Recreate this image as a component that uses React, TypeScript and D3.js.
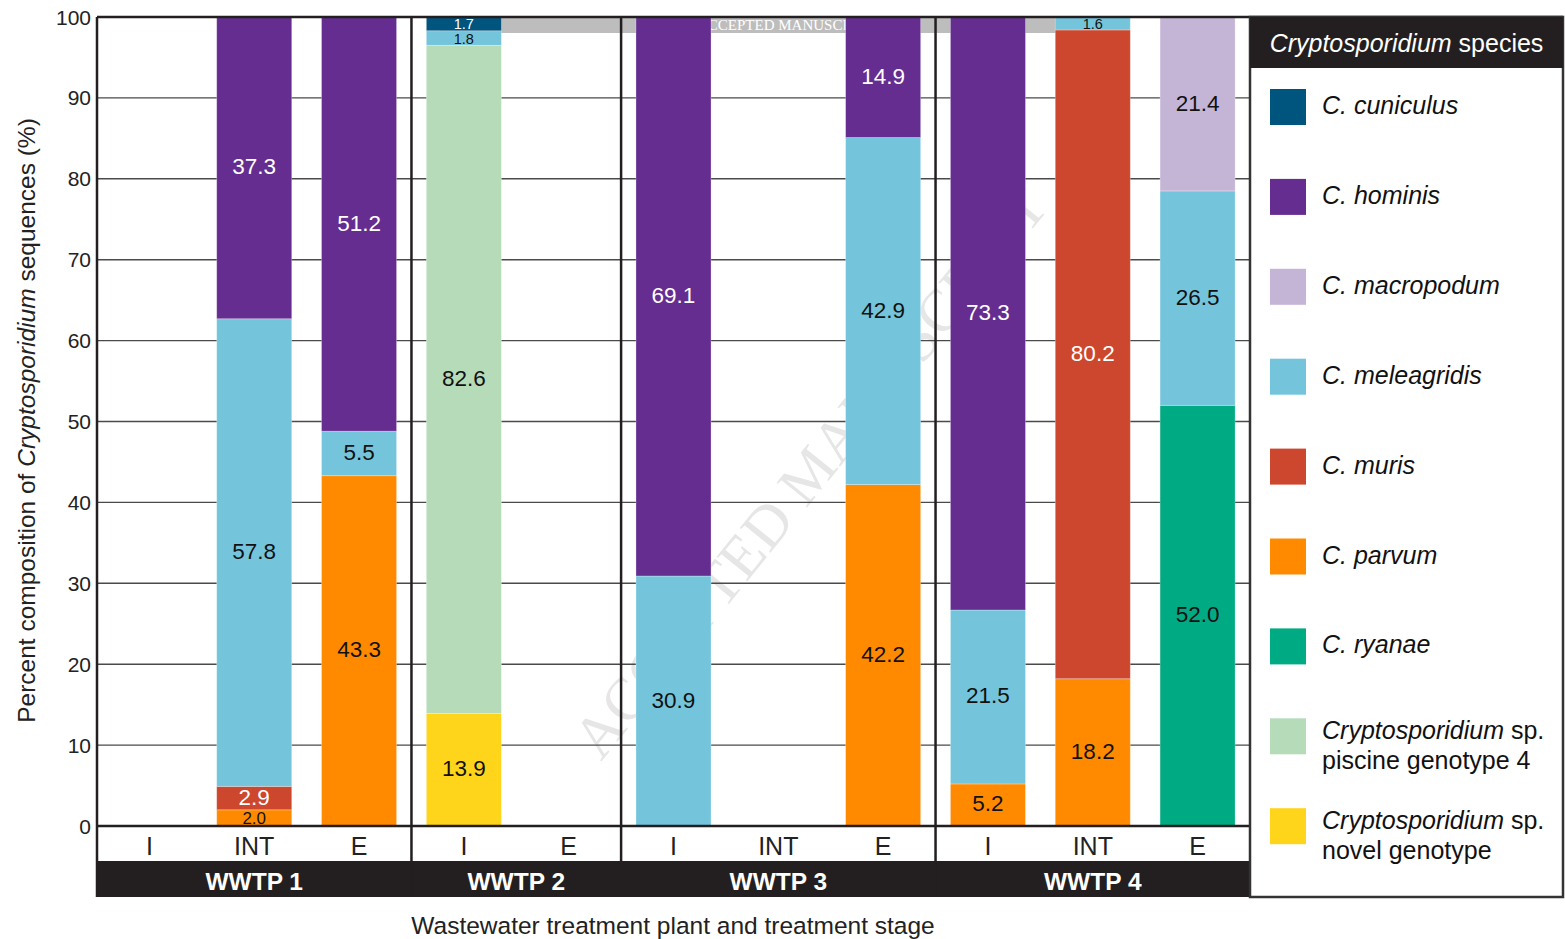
import React from "react";
import * as d3 from "d3";

// legend order (top to bottom); stacks go bottom-up in the reverse order
const species = [
  "cuniculus",
  "hominis",
  "macropodum",
  "meleagridis",
  "muris",
  "parvum",
  "ryanae",
  "piscine",
  "novel",
];

const speciesColors = [
  "#00557f",
  "#652d90",
  "#c4b5d7",
  "#74c5dc",
  "#cc472d",
  "#ff8a00",
  "#00ab84",
  "#b6dbb9",
  "#ffd51c",
];

// white value labels on the dark segments
const whiteLabel = ["cuniculus", "hominis", "muris"];

const plants = ["WWTP 1", "WWTP 2", "WWTP 3", "WWTP 4"];
const plantStages = [
  ["I", "INT", "E"],
  ["I", "E"],
  ["I", "INT", "E"],
  ["I", "INT", "E"],
];

// one row per bar: [plant, stage, species values...] in legend order
const samples: [string, string, number[]][] = [
  ["WWTP 1", "I", [0, 0, 0, 0, 0, 0, 0, 0, 0]],
  ["WWTP 1", "INT", [0, 37.3, 0, 57.8, 2.9, 2.0, 0, 0, 0]],
  ["WWTP 1", "E", [0, 51.2, 0, 5.5, 0, 43.3, 0, 0, 0]],
  ["WWTP 2", "I", [1.7, 0, 0, 1.8, 0, 0, 0, 82.6, 13.9]],
  ["WWTP 2", "E", [0, 0, 0, 0, 0, 0, 0, 0, 0]],
  ["WWTP 3", "I", [0, 69.1, 0, 30.9, 0, 0, 0, 0, 0]],
  ["WWTP 3", "INT", [0, 0, 0, 0, 0, 0, 0, 0, 0]],
  ["WWTP 3", "E", [0, 14.9, 0, 42.9, 0, 42.2, 0, 0, 0]],
  ["WWTP 4", "I", [0, 73.3, 0, 21.5, 0, 5.2, 0, 0, 0]],
  ["WWTP 4", "INT", [0, 0, 0, 1.6, 80.2, 18.2, 0, 0, 0]],
  ["WWTP 4", "E", [0, 0, 21.4, 26.5, 0, 0, 52.0, 0, 0]],
];

const yTicks = [0, 10, 20, 30, 40, 50, 60, 70, 80, 90, 100];

const W = 1565;
const H = 939;
const left = 97;
const right = 1250;
const top = 17;
const bottom = 826;
const stageRow = 862;
const plantRow = 897;
const ink = "#231f20";
const font = "'Liberation Sans', Arial, Helvetica, sans-serif";

const App: React.FC = () => {
  const keys = samples.map((s) => `${s[0]}|${s[1]}`);
  const x = d3
    .scaleBand<string>()
    .domain(keys)
    .range([left, right])
    .paddingInner(0.284)
    .paddingOuter(0.142);
  const y = d3.scaleLinear().domain([0, 100]).range([bottom, top]);

  const rows = samples.map((s) => {
    const r: Record<string, number | string> = { key: `${s[0]}|${s[1]}` };
    species.forEach((sp, i) => (r[sp] = s[2][i]));
    return r;
  });
  const stackKeys = species.slice().reverse();
  const series = d3
    .stack<Record<string, number | string>>()
    .keys(stackKeys)
    .value((d, k) => d[k] as number)(rows);
  const colorOf = d3.scaleOrdinal<string, string>().domain(species).range(speciesColors);

  const step = x.step();
  // group boundaries
  const groupEdges: number[] = [];
  let idx = 0;
  plants.forEach((p, i) => {
    const start = left + idx * step;
    idx += plantStages[i].length;
    const end = left + idx * step;
    groupEdges.push(start, end);
  });

  const legendX = right;
  const legendRight = 1563;
  const itemY = (i: number) => 105 + i * 89.9;

  const labelSize = (v: number) => (v < 1.9 ? 14.5 : v < 2.5 ? 17 : 22.5);

  return (
    <svg width={W} height={H} style={{ position: "absolute", left: 0, top: 0, fontFamily: font }}>
      <rect width={W} height={H} fill="white" />

      {/* manuscript watermark band */}
      <rect x={440} y={top} width={650} height={16} fill="#bdbdbd" />
      <text
        x={786}
        y={30}
        textAnchor="middle"
        fontFamily="'Liberation Serif', 'DejaVu Serif', serif"
        fontSize={15}
        fill="white"
      >
        ACCEPTED MANUSCRIPT
      </text>
      <text
        transform="translate(810,472) rotate(-51)"
        textAnchor="middle"
        dominantBaseline="central"
        fontFamily="'Liberation Serif', 'DejaVu Serif', serif"
        fontSize={60}
        textLength={714}
        lengthAdjust="spacingAndGlyphs"
        fill="#e6e6e6"
      >
        ACCEPTED MANUSCRIPT
      </text>

      {/* gridlines */}
      {yTicks
        .filter((t) => t > 0 && t < 100)
        .map((t) => (
          <line key={t} x1={left} x2={right} y1={y(t)} y2={y(t)} stroke="#4a4a4a" strokeWidth={1.4} />
        ))}

      {/* bars */}
      {series.map((s) => (
        <g key={s.key} fill={colorOf(s.key)}>
          {s.map((d) =>
            d[1] - d[0] > 0 ? (
              <rect
                key={d.data.key as string}
                x={x(d.data.key as string)}
                width={x.bandwidth()}
                y={y(d[1])}
                height={y(d[0]) - y(d[1])}
                stroke="#ffffff"
                strokeOpacity={0.35}
                strokeWidth={0.8}
              />
            ) : null
          )}
        </g>
      ))}

      {/* value labels */}
      {series.map((s) =>
        s.map((d) => {
          const v = d[1] - d[0];
          if (v <= 0) return null;
          return (
            <text
              key={`${s.key}-${d.data.key}`}
              x={(x(d.data.key as string) as number) + x.bandwidth() / 2}
              y={y((d[0] + d[1]) / 2) + (v < 2.5 ? 0.5 : -1)}
              textAnchor="middle"
              dominantBaseline="central"
              fontSize={labelSize(v)}
              fill={whiteLabel.includes(s.key) ? "white" : "#111"}
            >
              {v.toFixed(1)}
            </text>
          );
        })
      )}

      {/* y tick labels */}
      {yTicks.map((t) => (
        <text
          key={t}
          x={91}
          y={y(t)}
          textAnchor="end"
          dominantBaseline="central"
          fontSize={21}
          fill="#222"
        >
          {t}
        </text>
      ))}

      {/* stage labels */}
      {samples.map((s) => (
        <text
          key={`${s[0]}${s[1]}`}
          x={(x(`${s[0]}|${s[1]}`) as number) + x.bandwidth() / 2}
          y={846}
          textAnchor="middle"
          dominantBaseline="central"
          fontSize={25}
          fill="#222"
        >
          {s[1]}
        </text>
      ))}

      {/* plant band */}
      <rect x={left} y={stageRow} width={right - left} height={plantRow - stageRow} fill={ink} />
      {plants.map((p, i) => (
        <text
          key={p}
          x={(groupEdges[i * 2] + groupEdges[i * 2 + 1]) / 2}
          y={881}
          textAnchor="middle"
          dominantBaseline="central"
          fontSize={24.5}
          fontWeight="bold"
          fill="white"
        >
          {p}
        </text>
      ))}

      {/* frame */}
      <line x1={left} x2={right} y1={bottom} y2={bottom} stroke={ink} strokeWidth={2.5} />
      <line x1={left} x2={right} y1={stageRow} y2={stageRow} stroke={ink} strokeWidth={2} />
      <line x1={left} x2={legendRight} y1={top} y2={top} stroke={ink} strokeWidth={2.5} />
      <line x1={left} x2={left} y1={top} y2={plantRow} stroke={ink} strokeWidth={2.5} />
      {groupEdges
        .filter((e, i) => i % 2 === 1 && e < right - 1)
        .map((e) => (
          <line key={e} x1={e} x2={e} y1={top} y2={plantRow} stroke={ink} strokeWidth={2.5} />
        ))}

      {/* legend */}
      <rect
        x={legendX}
        y={top}
        width={legendRight - legendX}
        height={plantRow - top}
        fill="none"
        stroke="#333"
        strokeWidth={2.5}
      />
      <rect x={legendX} y={top} width={legendRight - legendX} height={51} fill={ink} />
      <text
        x={(legendX + legendRight) / 2}
        y={43}
        textAnchor="middle"
        dominantBaseline="central"
        fontSize={25}
        fill="white"
      >
        <tspan fontStyle="italic">Cryptosporidium</tspan> species
      </text>
      {species.map((sp, i) => {
        const cy = itemY(i);
        const twoLine = sp === "piscine" || sp === "novel";
        return (
          <g key={sp}>
            <rect x={1270} y={cy - 16} width={36} height={36} fill={colorOf(sp)} />
            {twoLine ? (
              <text x={1322} fontSize={25} fill="#111">
                <tspan x={1322} y={cy + 5}>
                  <tspan fontStyle="italic">Cryptosporidium</tspan> sp.
                </tspan>
                <tspan x={1322} y={cy + 35}>
                  {sp === "piscine" ? "piscine genotype 4" : "novel genotype"}
                </tspan>
              </text>
            ) : (
              <text x={1322} y={cy} dominantBaseline="central" fontSize={25} fontStyle="italic" fill="#111">
                {`C. ${sp}`}
              </text>
            )}
          </g>
        );
      })}

      {/* axis titles */}
      <text
        transform={`translate(35,${(top + bottom) / 2 - 1}) rotate(-90)`}
        textAnchor="middle"
        fontSize={24.5}
        fill="#222"
      >
        Percent composition of <tspan fontStyle="italic">Cryptosporidium</tspan> sequences (%)
      </text>
      <text x={673} y={925} textAnchor="middle" dominantBaseline="central" fontSize={24.5} fill="#222">
        Wastewater treatment plant and treatment stage
      </text>
    </svg>
  );
};

export default App;
